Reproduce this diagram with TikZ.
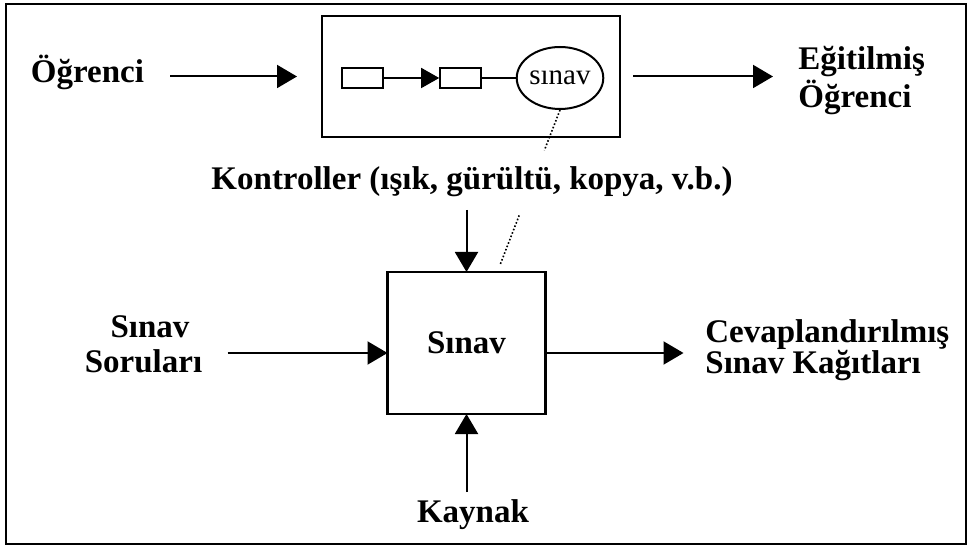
\documentclass[tikz,border=0pt]{standalone}
\usepackage{fontspec}
\setmainfont{Liberation Serif}
\usetikzlibrary{arrows.meta,calc,shapes.geometric}

\tikzset{
  lbl/.style={font=\fontsize{16.5}{19}\selectfont\bfseries, inner sep=0pt},
  arr/.style={line width=1pt, -{Triangle[length=10pt,width=11.5pt]}},
  thinarr/.style={line width=0.8pt, -{Triangle[length=9pt,width=10pt]}},
  box/.style={draw, line width=1.3pt, inner sep=0pt, outer sep=0pt},
  cell/.style={draw, line width=0.8pt, minimum width=20.5pt, minimum height=10pt, inner sep=0pt},
  examtag/.style={draw, ellipse, line width=1pt, minimum width=42pt, minimum height=31pt,
                  inner sep=0pt, font=\fontsize{14.5}{16}\selectfont},
  link/.style={line width=0.8pt, densely dotted}
}

\begin{document}
\begin{tikzpicture}[x=0.5pt, y=-0.5pt]
  \useasboundingbox (0,0) rectangle (972,549);
  % outer frame
  \draw[line width=1.2pt] (6,4) rectangle (966,544);

  % upper process: student passes through the education chain
  \node[box, minimum width=149pt, minimum height=60.5pt] (proc) at (471,76.5) {};
  \node[cell] (c1) at (362.5,78) {};
  \node[cell] (c2) at (460.5,78) {};
  \node[examtag] (exam) at (560,78) {sınav};
  \draw[thinarr] (c1) -- (c2);
  \draw[line width=0.8pt] (c2) -- (exam);

  \node[lbl, anchor=base] (ogr) at (87.5,83) {Öğrenci};
  \node[lbl, anchor=base west] (egit1) at (798,70) {Eğitilmiş};
  \node[lbl, anchor=base west] (egit2) at (798,108) {Öğrenci};

  \draw[arr] ([xshift=-76pt]proc.west) -- ([xshift=-12.5pt]proc.west);
  \draw[arr] ([xshift=6.5pt]proc.east) -- ([xshift=76.5pt]proc.east);

  % lower process: the exam itself
  \node[box, lbl, draw, line width=1.3pt, minimum width=79pt, minimum height=71pt] (low) at (466.5,343) {Sınav};

  \node[lbl, anchor=base] (ctrl) at (472,190) {Kontroller (ışık, gürültü, kopya, v.b.)};
  \node[lbl, anchor=base] (q1) at (150,337) {Sınav};
  \node[lbl, anchor=base] (q2) at (143.5,372) {Soruları};
  \node[lbl, anchor=base west] (ans1) at (705,343) {Cevaplandırılmış};
  \node[lbl, anchor=base west] (ans2) at (705,373) {Sınav Kağıtları};
  \node[lbl, anchor=base] (res) at (473,522) {Kaynak};

  \draw[arr] ([yshift=31pt]low.north) -- (low.north);
  \draw[arr] ([yshift=-39pt]low.south) -- (low.south);
  \draw[arr] ([xshift=-80pt,yshift=-5pt]low.west) -- ([yshift=-5pt]low.west);
  \draw[arr] ([yshift=-5pt]low.east) -- ([xshift=69pt,yshift=-5pt]low.east);

  % dotted link from the exam step to the exam box, broken by the label
  \coordinate (linkEnd) at ([xshift=16.75pt,yshift=3.5pt]low.north);
  \draw[link] (exam.south) -- ($(exam.south)!0.26!(linkEnd)$);
  \draw[link] ($(exam.south)!0.68!(linkEnd)$) -- (linkEnd);
\end{tikzpicture}
\end{document}
